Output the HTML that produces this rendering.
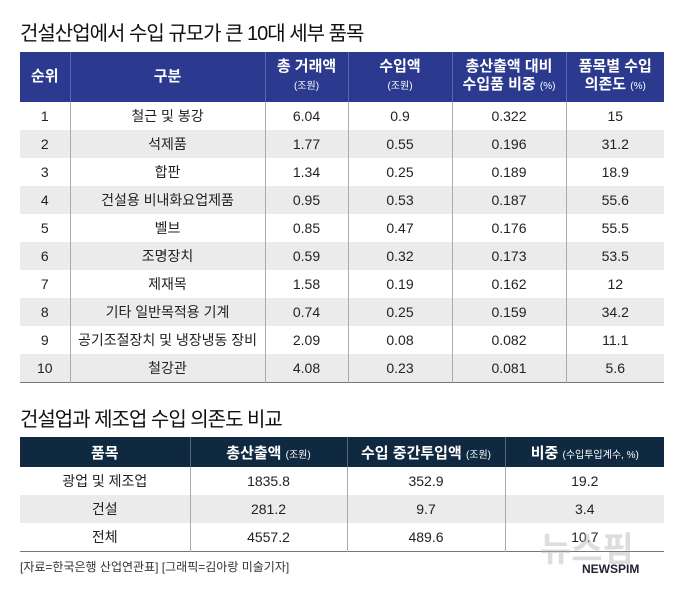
<!DOCTYPE html>
<html><head><meta charset="utf-8"><style>
body{margin:0;width:680px;height:592px;background:#fff;font-family:"Liberation Sans","Noto Sans CJK KR",sans-serif;color:#222;position:relative;overflow:hidden}
.t{position:absolute;left:20px;font-size:20px;letter-spacing:-1px;color:#111}
table{position:absolute;left:20px;border-collapse:collapse;table-layout:fixed}
td,th{text-align:center;font-size:14px;padding:0;color:#222}
#t1 th{background:#2b3a8f;color:#fff;font-size:15px;font-weight:bold;line-height:18px;border-left:1px solid #5a68b0}
#t1 th:first-child,#t2 th:first-child{border-left:none}
#t1 td{height:28px;border-left:1px solid #aaa}
#t1 td:first-child,#t2 td:first-child{border-left:none}
.g td{background:#ebebeb}
small{font-size:10px;font-weight:normal}
#t2 th{background:#0f2a40;color:#fff;font-size:15px;height:30px;font-weight:bold;border-left:1px solid #55697a}
#t2 td{height:28px;border-left:1px solid #aaa}
#t1,#t2{border-bottom:1px solid #777}
</style></head><body>
<div class="t" style="top:17px">건설산업에서 수입 규모가 큰 10대 세부 품목</div>
<table id="t1" style="top:52px;width:644px">
<colgroup><col style="width:50px"><col style="width:195px"><col style="width:83px"><col style="width:104px"><col style="width:114px"><col style="width:98px"></colgroup>
<tr style="height:50px"><th>순위</th><th>구분</th><th>총 거래액<br><small>(조원)</small></th><th>수입액<br><small>(조원)</small></th><th>총산출액 대비<br>수입품 비중 <small>(%)</small></th><th>품목별 수입<br>의존도 <small>(%)</small></th></tr>
<tr><td>1</td><td>철근 및 봉강</td><td>6.04</td><td>0.9</td><td>0.322</td><td>15</td></tr>
<tr class="g"><td>2</td><td>석제품</td><td>1.77</td><td>0.55</td><td>0.196</td><td>31.2</td></tr>
<tr><td>3</td><td>합판</td><td>1.34</td><td>0.25</td><td>0.189</td><td>18.9</td></tr>
<tr class="g"><td>4</td><td>건설용 비내화요업제품</td><td>0.95</td><td>0.53</td><td>0.187</td><td>55.6</td></tr>
<tr><td>5</td><td>벨브</td><td>0.85</td><td>0.47</td><td>0.176</td><td>55.5</td></tr>
<tr class="g"><td>6</td><td>조명장치</td><td>0.59</td><td>0.32</td><td>0.173</td><td>53.5</td></tr>
<tr><td>7</td><td>제재목</td><td>1.58</td><td>0.19</td><td>0.162</td><td>12</td></tr>
<tr class="g"><td>8</td><td>기타 일반목적용 기계</td><td>0.74</td><td>0.25</td><td>0.159</td><td>34.2</td></tr>
<tr><td>9</td><td>공기조절장치 및 냉장냉동 장비</td><td>2.09</td><td>0.08</td><td>0.082</td><td>11.1</td></tr>
<tr class="g"><td>10</td><td>철강관</td><td>4.08</td><td>0.23</td><td>0.081</td><td>5.6</td></tr>
</table>
<div class="t" style="top:403px">건설업과 제조업 수입 의존도 비교</div>
<table id="t2" style="top:437px;width:644px">
<colgroup><col style="width:170px"><col style="width:157px"><col style="width:158px"><col style="width:159px"></colgroup>
<tr><th>품목</th><th>총산출액 <small>(조원)</small></th><th>수입 중간투입액 <small>(조원)</small></th><th>비중 <small>(수입투입계수, %)</small></th></tr>
<tr><td>광업 및 제조업</td><td>1835.8</td><td>352.9</td><td>19.2</td></tr>
<tr class="g"><td>건설</td><td>281.2</td><td>9.7</td><td>3.4</td></tr>
<tr><td>전체</td><td>4557.2</td><td>489.6</td><td>10.7</td></tr>
</table>
<div style="position:absolute;left:20px;top:558px;font-size:12px;color:#333">[자료=한국은행 산업연관표] [그래픽=김아랑 미술기자]</div>
<div style="position:absolute;left:540px;top:522px;font-size:34px;font-weight:bold;color:rgba(180,180,180,0.45)">뉴스핌</div>
<div style="position:absolute;left:582px;top:562px;font-size:12px;font-weight:bold;color:#223">NEWSPIM</div>
</body></html>
